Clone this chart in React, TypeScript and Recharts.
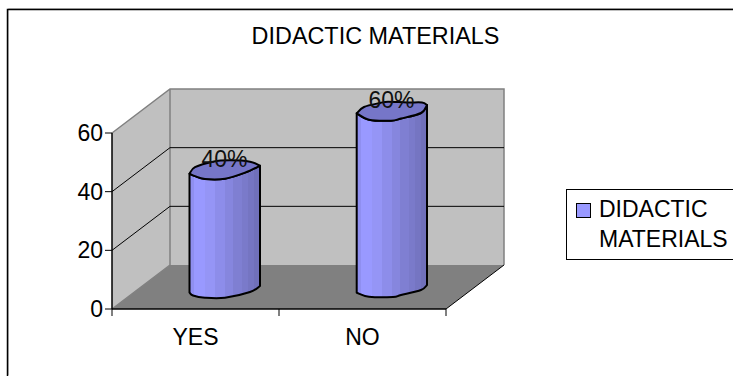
import React from "react";
import { BarChart, Bar, XAxis, YAxis, Legend, LabelList, usePlotArea } from "recharts";

const categories = ["YES", "NO"];
const values = [40, 60];
const percentLabels = ["40%", "60%"];
const yTicks = [0, 20, 40, 60];
const seriesName = "DIDACTIC MATERIALS";
const legendLines = ["DIDACTIC", "MATERIALS"];

const data = categories.map((name, i) => ({ name, value: values[i], label: percentLabels[i] }));

const FONT = "'Liberation Sans', Arial, sans-serif";
const FONT_SIZE = 23;
const WIDTH = 733;
const HEIGHT = 376;
const MAX = 60;

// oblique offset between the front plane and the back wall
const DEPTH_X = 58;
const DEPTH_Y = 44;

type Pt = number[];

// uneven outline of each cylinder, relative to the column centre
const OUTLINES: { back: Pt[]; front: Pt[]; bottom: Pt[] }[] = [
  {
    back: [[-35.5, 4], [-30, -2.5], [-12, -8], [5, -9.3], [25, -8], [35, -4]],
    front: [[20, 3], [0, 9], [-20, 9.3], [-30, 6.5]],
    bottom: [[-35.5, 5.5], [-32, 8.5], [-20, 10.7], [0, 10.7], [25, 5], [35, -1]],
  },
  {
    back: [[-35.3, 2.3], [-28, -4], [-12, -8], [-4, -9.3], [15, -8.5], [30, -8.5], [35, -6]],
    front: [[29, 2], [9, 7.5], [-1, 9.7], [-23, 8.7]],
    bottom: [[-35.3, 5.7], [-23, 9.7], [1, 10], [9, 8], [29, 3], [35, -2]],
  },
];

const at = (pts: Pt[], cx: number, cy: number) => pts.map(([dx, dy]) => [cx + dx, cy + dy]);

// smooth line through all the points (Catmull-Rom turned into beziers)
const curve = (pts: Pt[]) => {
  let d = "";
  for (let i = 0; i < pts.length - 1; i++) {
    const p0 = pts[Math.max(i - 1, 0)];
    const p1 = pts[i];
    const p2 = pts[i + 1];
    const p3 = pts[Math.min(i + 2, pts.length - 1)];
    d += `C${p1[0] + (p2[0] - p0[0]) / 6} ${p1[1] + (p2[1] - p0[1]) / 6} ${p2[0] - (p3[0] - p1[0]) / 6} ${p2[1] - (p3[1] - p1[1]) / 6} ${p2[0]} ${p2[1]}`;
  }
  return d;
};

const Cylinder = (props: any) => {
  const { x, y, width, height, index } = props;
  const cx = x + width / 2 + DEPTH_X / 2;
  const top = y - DEPTH_Y / 2;
  const base = y + height - DEPTH_Y / 2;
  const outline = OUTLINES[index];
  const rim = at(outline.back, cx, top);
  const left = rim[0];
  const right = rim[rim.length - 1];
  const frontEdge = [right, ...at(outline.front, cx, top), left];
  const bottom = at(outline.bottom, cx, base);
  const body =
    `M${left[0]} ${left[1]}L${bottom[0][0]} ${bottom[0][1]}` +
    curve(bottom) +
    `L${right[0]} ${right[1]}` +
    curve(frontEdge) +
    "Z";
  const cap = `M${left[0]} ${left[1]}` + curve(rim) + curve(frontEdge) + "Z";
  return (
    <g stroke="#000" strokeWidth={2} strokeLinejoin="round">
      <path d={body} fill="url(#cylinderSide)" />
      <path d={cap} fill="#7676c8" />
    </g>
  );
};

// walls, floor, gridlines and the frame around the chart
const Backdrop = () => {
  const plot = usePlotArea();
  if (!plot) return null;
  const { x, y, width, height } = plot;
  const right = x + width;
  const bottom = y + height;
  const yOf = (v: number) => bottom - (v / MAX) * height;
  return (
    <g>
      <path d={`M7.5 ${HEIGHT}V9.5H${WIDTH}`} fill="none" stroke="#c8c8c8" strokeWidth={1} transform="translate(1 -1)" />
      <path d={`M7.5 ${HEIGHT}V9.5H${WIDTH}`} fill="none" stroke="#000" strokeWidth={1.5} />
      <polygon points={`${x},${y} ${x + DEPTH_X},${y - DEPTH_Y} ${x + DEPTH_X},${bottom - DEPTH_Y} ${x},${bottom}`} fill="#c0c0c0" />
      <rect x={x + DEPTH_X} y={y - DEPTH_Y} width={width} height={height} fill="#c0c0c0" />
      <polygon points={`${x},${bottom} ${right},${bottom} ${right + DEPTH_X},${bottom - DEPTH_Y} ${x + DEPTH_X},${bottom - DEPTH_Y}`} fill="#808080" />
      <path
        d={`M${x} ${y}L${x + DEPTH_X} ${y - DEPTH_Y}H${right + DEPTH_X}V${bottom - DEPTH_Y}M${x + DEPTH_X} ${y - DEPTH_Y}V${bottom - DEPTH_Y}L${x} ${bottom}`}
        fill="none"
        stroke="#808080"
        strokeWidth={1.5}
      />
      {yTicks.slice(1, -1).map((v) => (
        <path
          key={v}
          d={`M${x} ${yOf(v)}L${x + DEPTH_X} ${yOf(v) - DEPTH_Y}H${right + DEPTH_X}`}
          fill="none"
          stroke="#000"
          strokeWidth={1}
        />
      ))}
      <path d={`M${right} ${bottom}L${right + DEPTH_X} ${bottom - DEPTH_Y}`} stroke="#000" strokeWidth={1} />
      {[0, 1, 2].map((i) => {
        const tx = x + (i * width) / categories.length;
        return <path key={i} d={`M${tx} ${bottom}v7`} stroke="#000" strokeWidth={1} />;
      })}
    </g>
  );
};

const PercentLabel = (props: any) => {
  const { x, y, width, value } = props;
  return (
    <text
      x={x + width / 2 + DEPTH_X / 2 - 0.5}
      y={y - DEPTH_Y / 2 - 3}
      textAnchor="middle"
      fontFamily={FONT}
      fontSize={FONT_SIZE}
      fill="#111"
    >
      {value}
    </text>
  );
};

const LegendBox = () => (
  <div
    style={{
      boxSizing: "border-box",
      width: 168,
      height: 71,
      border: "1px solid #000",
      borderRight: "none",
      background: "#fff",
      position: "relative",
      fontFamily: FONT,
      fontSize: FONT_SIZE,
      lineHeight: "30px",
      color: "#000",
    }}
  >
    <span
      style={{
        position: "absolute",
        left: 9,
        top: 13,
        width: 15,
        height: 15,
        boxSizing: "border-box",
        background: "#9999ff",
        border: "1.5px solid #000",
      }}
    />
    <div style={{ position: "absolute", left: 32, top: 4, whiteSpace: "nowrap" }}>
      {legendLines.map((line) => (
        <div key={line}>{line}</div>
      ))}
    </div>
  </div>
);

// shading bands across the round side of a cylinder
const SIDE_BANDS: [number, string][] = [
  [0.057, "#8f8ff0"],
  [0.22, "#9999ff"],
  [0.363, "#9595f6"],
  [0.505, "#8d8dea"],
  [0.623, "#8686de"],
  [0.74, "#7f7fd2"],
  [0.835, "#7a7aca"],
  [0.92, "#7575c2"],
  [1, "#7070ba"],
];

const App = () => (
  <div style={{ position: "absolute", left: 0, top: 0 }}>
    <BarChart
      width={WIDTH}
      height={HEIGHT}
      data={data}
      barSize={70}
      margin={{ top: 133, right: 119, bottom: 37, left: 0 }}
    >
      <defs>
        <linearGradient id="cylinderSide" x1="0" y1="0" x2="1" y2="0">
          {SIDE_BANDS.map(([end, color], i) => (
            <React.Fragment key={end}>
              <stop offset={i === 0 ? 0 : SIDE_BANDS[i - 1][0]} stopColor={color} />
              <stop offset={end} stopColor={color} />
            </React.Fragment>
          ))}
        </linearGradient>
      </defs>
      <Backdrop />
      <text x={375.5} y={44} textAnchor="middle" fontFamily={FONT} fontSize={23.4} fill="#000">
        {seriesName}
      </text>
      <XAxis
        dataKey="name"
        height={30}
        axisLine={{ stroke: "#000", strokeWidth: 1.5 }}
        tickLine={false}
        tickMargin={14}
        tick={{ fill: "#000", fontFamily: FONT, fontSize: FONT_SIZE }}
      />
      <YAxis
        domain={[0, MAX]}
        ticks={yTicks}
        width={112}
        tickSize={7}
        tickMargin={2}
        axisLine={{ stroke: "#000", strokeWidth: 1.5 }}
        tickLine={{ stroke: "#000" }}
        tick={{ fill: "#000", fontFamily: FONT, fontSize: FONT_SIZE }}
      />
      <Legend
        layout="vertical"
        align="right"
        verticalAlign="top"
        width={168}
        wrapperStyle={{ left: 566, top: 189, right: "auto", width: 168 }}
        content={<LegendBox />}
      />
      <Bar dataKey="value" name={seriesName} fill="#9999ff" shape={<Cylinder />} isAnimationActive={false}>
        <LabelList dataKey="label" content={<PercentLabel />} />
      </Bar>
    </BarChart>
  </div>
);

export default App;
